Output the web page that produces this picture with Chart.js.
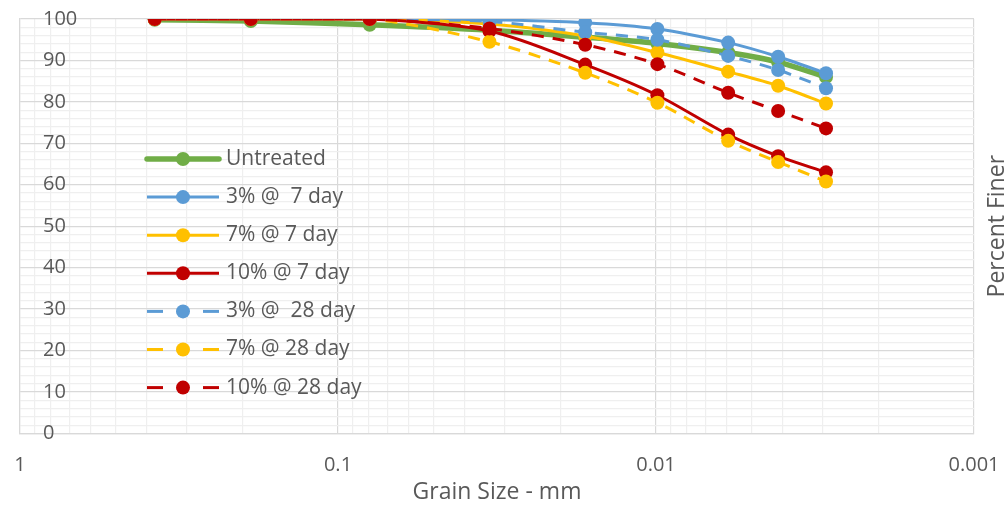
<!DOCTYPE html>
<html>
<head>
<meta charset="utf-8">
<script src="https://cdn.jsdelivr.net/npm/chart.js@4.4.1/dist/chart.umd.min.js"></script>
<style>
  html, body { margin: 0; padding: 0; background: #fff; }
  #wrap { width: 1004px; height: 513px; }
</style>
</head>
<body>
<div id="wrap"><canvas id="gradation"></canvas></div>
<script>
// grain size (mm) for each reading
const grainSize = [0.377, 0.188, 0.0795, 0.0334, 0.0167, 0.0099, 0.00593, 0.00413, 0.00292];

// percent finer per mix
const untreated = [99.8, 99.5, 98.6, 97.3, 95.6, 94.1, 91.9, 89.6, 86.0];
const lime3Day7 = [100, 100, 100, 99.8, 99.1, 97.6, 94.3, 90.9, 86.9];
const lime7Day7 = [100, 100, 100, 98.8, 95.9, 91.9, 87.3, 83.9, 79.6];
const lime10Day7 = [100, 100, 100, 97.1, 89.0, 81.6, 72.1, 66.9, 63.0];
const lime3Day28 = [100, 100, 100, 99.4, 96.8, 95.0, 91.1, 87.7, 83.3];
const lime7Day28 = [100, 100, 100, 94.5, 87.0, 79.8, 70.6, 65.5, 60.8];
const lime10Day28 = [100, 100, 100, 97.7, 93.8, 89.1, 82.2, 77.8, 73.6];

const seriesNames = ["Untreated", "3% @  7 day", "7% @ 7 day", "10% @ 7 day",
  "3% @  28 day", "7% @ 28 day", "10% @ 28 day"];
const seriesValues = [untreated, lime3Day7, lime7Day7, lime10Day7, lime3Day28, lime7Day28, lime10Day28];

const yTicks = [0, 10, 20, 30, 40, 50, 60, 70, 80, 90, 100];
const xDecades = [1, 0.1, 0.01, 0.001];

const colors = {
  green: "#70AD47",
  blue: "#5B9BD5",
  gold: "#FFC000",
  red: "#C00000",
  text: "#595959",
  gridMajor: "#D9D9D9",
  gridMinor: "#EFEFEF"
};
const seriesColors = [colors.green, colors.blue, colors.gold, colors.red, colors.blue, colors.gold, colors.red];
const dash = [12, 9];

const FONT = "'Open Sans', 'Liberation Sans', sans-serif";
Chart.defaults.font.family = FONT;
Chart.defaults.color = colors.text;

const isDecade = v => Math.abs(Math.log10(v) - Math.round(Math.log10(v))) < 1e-9;

const datasets = seriesNames.map((name, i) => ({
  label: name,
  data: grainSize.map((x, j) => ({ x: x, y: seriesValues[i][j] })),
  borderColor: seriesColors[i],
  backgroundColor: seriesColors[i],
  borderWidth: i === 0 ? 5.5 : 3,
  borderDash: i >= 4 ? dash : [],
  pointRadius: 7,
  pointBorderWidth: 0,
  pointBackgroundColor: seriesColors[i],
  tension: 0.3,
  fill: false,
  order: seriesNames.length - 1 - i
}));

// legend drawn as line + marker like a spreadsheet legend
const sideLegend = {
  id: "sideLegend",
  afterDraw(chart) {
    const { ctx, chartArea } = chart;
    const x0 = chartArea.left + 127;
    const lineLen = 72;
    const mid = x0 + lineLen / 2;
    ctx.save();
    chart.data.datasets.forEach((ds, i) => {
      const y = chartArea.top + 140 + i * 38.1;
      ctx.strokeStyle = ds.borderColor;
      ctx.lineWidth = ds.borderWidth;
      ctx.lineCap = i === 0 ? "round" : "butt";
      if (ds.borderDash.length) {
        ctx.setLineDash([16, 40]);
        ctx.beginPath();
        ctx.moveTo(x0, y); ctx.lineTo(mid, y);
        ctx.stroke();
        ctx.beginPath();
        ctx.moveTo(x0 + lineLen, y); ctx.lineTo(mid, y);
        ctx.stroke();
        ctx.setLineDash([]);
      } else {
        ctx.beginPath();
        ctx.moveTo(x0, y); ctx.lineTo(x0 + lineLen, y);
        ctx.stroke();
      }
      ctx.fillStyle = ds.pointBackgroundColor;
      ctx.beginPath();
      ctx.arc(mid, y, ds.pointRadius, 0, Math.PI * 2);
      ctx.fill();
      ctx.fillStyle = colors.text;
      ctx.font = "21px " + FONT;
      ctx.textAlign = "left";
      ctx.textBaseline = "middle";
      ctx.fillText(ds.label, x0 + lineLen + 7, y);
    });
    ctx.restore();
  }
};

// vertical axis title sits on the right, reading bottom to top
const rightTitle = {
  id: "rightTitle",
  afterDraw(chart) {
    const { ctx, chartArea } = chart;
    ctx.save();
    ctx.translate(chart.width, (chartArea.top + chartArea.bottom) / 2);
    ctx.rotate(-Math.PI / 2);
    ctx.font = "23px " + FONT;
    ctx.fillStyle = colors.text;
    ctx.textAlign = "center";
    ctx.textBaseline = "alphabetic";
    ctx.fillText("Percent Finer", 0, 0);
    ctx.restore();
  }
};

new Chart(document.getElementById("gradation"), {
  type: "line",
  data: { datasets: datasets },
  options: {
    responsive: true,
    maintainAspectRatio: false,
    animation: false,
    events: [],
    layout: { padding: { left: 20, right: 30, top: 19, bottom: 0 } },
    plugins: { legend: { display: false }, tooltip: { enabled: false } },
    scales: {
      x: {
        type: "logarithmic",
        reverse: true,
        min: xDecades[xDecades.length - 1],
        max: xDecades[0],
        afterBuildTicks(scale) {
          const ticks = [];
          for (let d = xDecades.length - 1; d >= 1; d--) {
            for (let m = 1; m <= 9; m++) ticks.push({ value: +(xDecades[d] * m).toPrecision(3) });
          }
          ticks.push({ value: xDecades[0] });
          scale.ticks = ticks;
        },
        afterFit(scale) { scale.paddingLeft = 0; scale.paddingRight = 0; },
        ticks: {
          autoSkip: false,
          maxRotation: 0,
          padding: 20,
          font: { size: 20 },
          color: colors.text,
          callback: v => (isDecade(v) ? String(v) : "")
        },
        grid: {
          drawTicks: false,
          lineWidth: 1.2,
          color: c => (c.tick && isDecade(c.tick.value) ? colors.gridMajor : colors.gridMinor)
        },
        border: { color: colors.gridMajor, width: 1.2 },
        title: {
          display: true,
          text: "Grain Size - mm",
          font: { size: 23 },
          color: colors.text,
          padding: { top: -19, bottom: 7 }
        }
      },
      y: {
        min: yTicks[0],
        max: yTicks[yTicks.length - 1],
        afterFit(scale) { scale.width = 0; scale.paddingTop = 0; scale.paddingBottom = 0; },
        ticks: {
          stepSize: 2,
          autoSkip: false,
          mirror: true,
          padding: 23,
          font: { size: 20 },
          color: colors.text,
          callback: v => (yTicks.includes(v) ? String(v) : "")
        },
        grid: {
          drawTicks: false,
          lineWidth: 1.2,
          color: c => (c.tick && yTicks.includes(c.tick.value) ? colors.gridMajor : colors.gridMinor)
        },
        border: { color: colors.gridMajor, width: 1.2 }
      }
    }
  },
  plugins: [sideLegend, rightTitle]
});
</script>
</body>
</html>
